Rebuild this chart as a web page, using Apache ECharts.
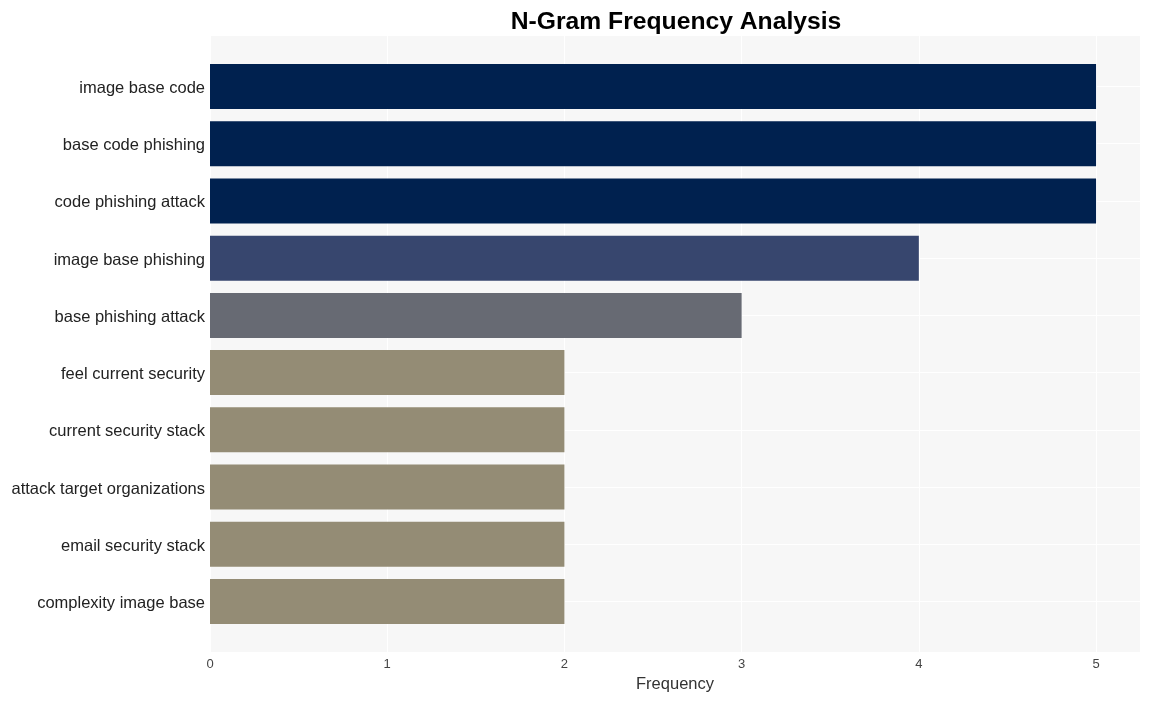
<!DOCTYPE html>
<html>
<head>
<meta charset="utf-8">
<script src="https://cdn.jsdelivr.net/npm/echarts@6/dist/echarts.min.js"></script>
<style>html,body{margin:0;padding:0;background:#fff;}#chart{width:1150px;height:701px;}</style>
</head>
<body>
<div id="chart"></div>
<script>
const categories = ["image base code","base code phishing","code phishing attack","image base phishing","base phishing attack","feel current security","current security stack","attack target organizations","email security stack","complexity image base"];
const values = [5,5,5,4,3,2,2,2,2,2];
const barColors = {5:"#00214f",4:"#37466e",3:"#676a73",2:"#948c75"};
const xTicks = [0,1,2,3,4,5];
const idx = categories.map((c,i)=>i);
const FONT = 'Liberation Sans, Arial';
const XMAX = 5.248;

const chart = echarts.init(document.getElementById('chart'));
chart.setOption({
  animation:false,
  backgroundColor:'#ffffff',
  title:{text:'N-Gram Frequency Analysis',left:671,textAlign:'center',top:5,
    textStyle:{fontFamily:FONT,fontSize:24.7,fontWeight:'bold',color:'#000'}},
  grid:[
    {left:210,right:10,top:36,height:616,show:true,backgroundColor:'#f7f7f7',borderWidth:0},
    {left:210,right:10,top:58,height:572,show:false}
  ],
  xAxis:[
    {gridIndex:0,type:'value',min:0,max:XMAX,
      name:'Frequency',nameLocation:'middle',nameGap:24,
      nameTextStyle:{fontFamily:FONT,fontSize:16.5,color:'#333'},
      axisLine:{show:false},axisTick:{show:false,customValues:xTicks},
      axisLabel:{customValues:xTicks,fontFamily:FONT,fontSize:13,color:'#444',margin:6},
      splitLine:{show:true,lineStyle:{color:'#ffffff',width:1}}},
    {gridIndex:1,type:'value',min:0,max:XMAX,show:false}
  ],
  yAxis:[
    {gridIndex:0,type:'value',inverse:true,min:-0.88,max:9.88,
      axisLine:{show:false},axisTick:{show:false,customValues:idx},
      axisLabel:{customValues:idx,formatter:v=>categories[Math.round(v)]||'',
        fontFamily:FONT,fontSize:16.5,color:'#222',margin:5,verticalAlign:'top',lineHeight:4},
      splitLine:{show:true,lineStyle:{color:'#ffffff',width:1}}},
    {gridIndex:1,type:'category',inverse:true,data:categories,show:false}
  ],
  series:[{type:'bar',xAxisIndex:1,yAxisIndex:1,barWidth:45,
    data:values.map(v=>({value:v,itemStyle:{color:barColors[v]}}))}]
});
</script>
</body>
</html>
